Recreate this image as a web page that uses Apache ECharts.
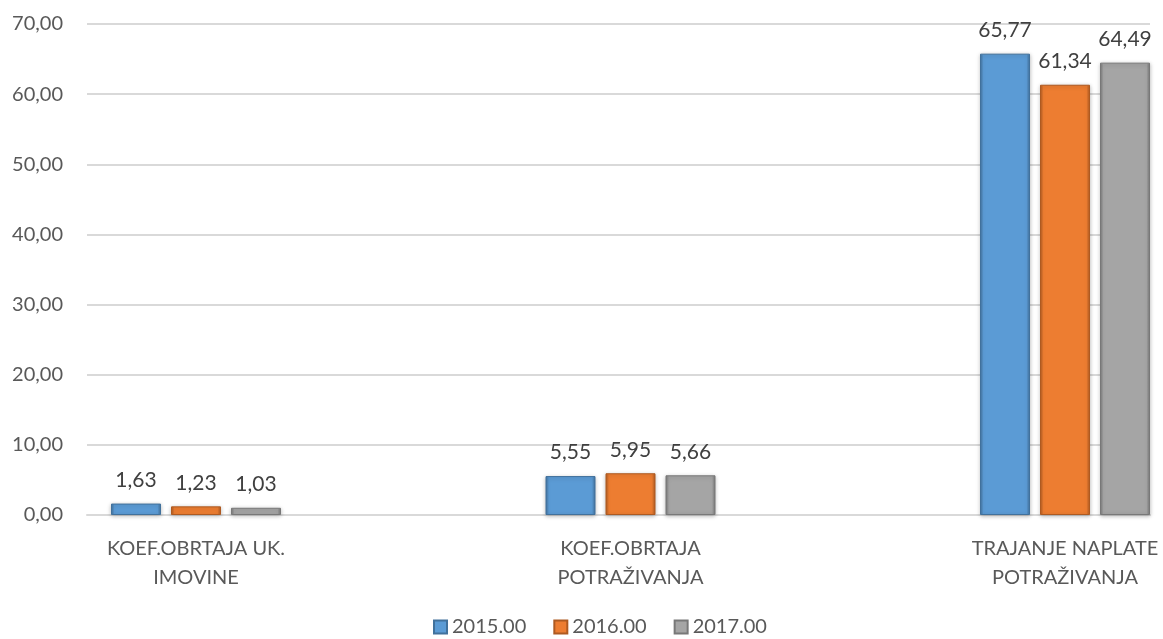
<!DOCTYPE html>
<html>
<head>
<meta charset="utf-8">
<script src="https://cdn.jsdelivr.net/npm/echarts@6/dist/echarts.min.js"></script>
<style>
  html, body { margin: 0; padding: 0; background: #fff; }
  #chart { width: 1163px; height: 639px; }
</style>
</head>
<body>
<div id="chart"></div>
<script>
const categories = ['KOEF.OBRTAJA UK.\nIMOVINE', 'KOEF.OBRTAJA\nPOTRAŽIVANJA', 'TRAJANJE NAPLATE\nPOTRAŽIVANJA'];
const seriesNames = ['2015.00', '2016.00', '2017.00'];
const values2015 = [1.63, 5.55, 65.77];
const values2016 = [1.23, 5.95, 61.34];
const values2017 = [1.03, 5.66, 64.49];
const yTicks = [0, 10, 20, 30, 40, 50, 60, 70];

const colors = [
  { main: '#5B9BD5', light: '#86BAE8', dark: '#41719C' },
  { main: '#ED7D31', light: '#F7A46C', dark: '#AE5A21' },
  { main: '#A5A5A5', light: '#CACACA', dark: '#787878' }
];

const fmt = v => v.toFixed(2).replace('.', ',');
const font = 'Lato, "Open Sans", sans-serif';

function barSeries(name, data, c) {
  return {
    name: name,
    type: 'bar',
    xAxisIndex: 1,
    yAxisIndex: 1,
    data: data,
    barWidth: 50,
    barGap: '20%',
    itemStyle: {
      color: new echarts.graphic.LinearGradient(0, 0, 1, 0, [
        { offset: 0, color: c.dark },
        { offset: 0.07, color: c.main },
        { offset: 0.5, color: c.main },
        { offset: 0.93, color: c.main },
        { offset: 1, color: c.dark }
      ]),
      borderColor: c.dark,
      borderWidth: 1,
      shadowColor: 'rgba(0,0,0,0.25)',
      shadowBlur: 4,
      shadowOffsetY: 1
    },
    label: {
      show: true,
      position: 'top',
      distance: 13,
      formatter: p => fmt(p.value),
      color: '#404040',
      fontSize: 21,
      fontFamily: font
    }
  };
}

const chart = echarts.init(document.getElementById('chart'));
chart.setOption({
  animation: false,
  color: colors.map(c => c.main),
  textStyle: { fontFamily: font },
  grid: [
    { left: 87, right: 13, top: 24, bottom: 124 },
    { left: 196, right: 98, top: 24, bottom: 124 }
  ],
  xAxis: [
    {
      type: 'category',
      gridIndex: 0,
      data: categories,
      axisLine: { show: true, lineStyle: { color: '#D9D9D9', width: 2 } },
      axisTick: { show: false },
      axisLabel: { show: false }
    },
    {
      type: 'category',
      gridIndex: 1,
      data: categories,
      boundaryGap: false,
      axisLine: { show: false },
      axisTick: { show: false },
      axisLabel: {
        interval: 0,
        margin: 19,
        color: '#595959',
        fontSize: 20,
        lineHeight: 29,
        fontFamily: font
      }
    }
  ],
  yAxis: [
    {
      type: 'value',
      gridIndex: 0,
      min: yTicks[0],
      max: yTicks[yTicks.length - 1],
      interval: 10,
      axisLine: { show: false },
      axisTick: { show: false },
      splitLine: { lineStyle: { color: '#D9D9D9', width: 2 } },
      axisLabel: {
        margin: 24,
        color: '#595959',
        fontSize: 20,
        fontFamily: font,
        formatter: v => fmt(v)
      }
    },
    {
      type: 'value',
      gridIndex: 1,
      min: yTicks[0],
      max: yTicks[yTicks.length - 1],
      interval: 10,
      show: false,
      splitLine: { show: false }
    }
  ],
  legend: {
    data: seriesNames,
    top: 612,
    left: 428,
    itemWidth: 13,
    itemHeight: 13,
    itemGap: 27,
    icon: 'rect',
    textStyle: { color: '#595959', fontSize: 20, fontFamily: font }
  },
  series: [
    barSeries(seriesNames[0], values2015, colors[0]),
    barSeries(seriesNames[1], values2016, colors[1]),
    barSeries(seriesNames[2], values2017, colors[2])
  ]
});
</script>
</body>
</html>
